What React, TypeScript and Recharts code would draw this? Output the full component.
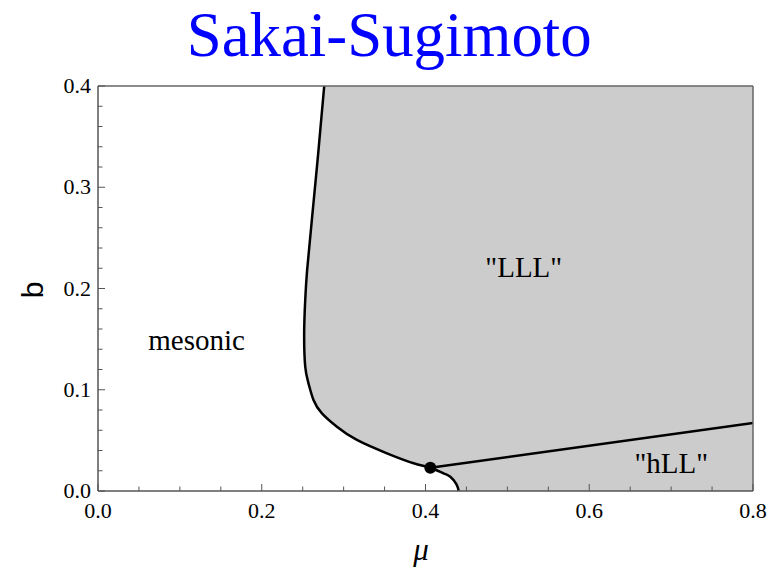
import {
  Area,
  ComposedChart,
  Line,
  ReferenceDot,
  ReferenceLine,
  Scatter,
  XAxis,
  YAxis,
} from "recharts";

// phase boundary, read from top (b = 0.4) down to the μ axis
const boundaryMu = [
  0.2763, 0.269, 0.2612, 0.2555, 0.2531, 0.2518, 0.2531, 0.2571, 0.2632,
  0.2735, 0.2918, 0.3162, 0.3529, 0.3855, 0.4059, 0.4221, 0.4303, 0.4377, 0.4405,
];
const boundaryB = [
  0.4, 0.334, 0.2677, 0.219, 0.1886, 0.1557, 0.1228, 0.1063, 0.0899,
  0.0767, 0.0635, 0.0504, 0.0372, 0.0274, 0.023, 0.0175, 0.0141, 0.0069, 0.0,
];

// LLL / hLL transition line
const hllMu = [0.4059, 0.8];
const hllB = [0.023, 0.0672];

const tripleMu = 0.4059;
const tripleB = 0.023;

const muTicks = [
  0, 0.05, 0.1, 0.15, 0.2, 0.25, 0.3, 0.35, 0.4, 0.45, 0.5, 0.55, 0.6,
  0.65, 0.7, 0.75, 0.8,
];
const bTicks = [
  0, 0.02, 0.04, 0.06, 0.08, 0.1, 0.12, 0.14, 0.16, 0.18, 0.2, 0.22, 0.24,
  0.26, 0.28, 0.3, 0.32, 0.34, 0.36, 0.38, 0.4,
];

const regionLabels = [
  { name: "mesonic", mu: 0.1204, b: 0.1494 },
  { name: '"LLL"', mu: 0.52, b: 0.2218 },
  { name: '"hLL"', mu: 0.7002, b: 0.0277 },
];

const boundary = boundaryMu.map((mu, i) => ({ mu, b: boundaryB[i] }));
const hll = hllMu.map((mu, i) => ({ mu, b: hllB[i] }));
const triple = [{ mu: tripleMu, b: tripleB }];

const SERIF = "Liberation Serif";
const AXIS = "#555";

const isMajor = (v: number, step: number) =>
  Math.abs(v / step - Math.round(v / step)) < 1e-6;

function MuTick(props: any) {
  const { x, y, payload } = props;
  const major = isMajor(payload.value, 0.2);
  return (
    <g>
      <line x1={x} x2={x} y1={y} y2={y - (major ? 7 : 4.5)} stroke={AXIS} strokeWidth={1} />
      {major && (
        <text x={x} y={y + 27} textAnchor="middle" fontFamily={SERIF} fontSize={22} fill="#000">
          {payload.value.toFixed(1)}
        </text>
      )}
    </g>
  );
}

function BTick(props: any) {
  const { x, y, payload } = props;
  const major = isMajor(payload.value, 0.1);
  return (
    <g>
      <line x1={x} x2={x + (major ? 7 : 4.5)} y1={y} y2={y} stroke={AXIS} strokeWidth={1} />
      {major && (
        <text x={x - 7} y={y + 7} textAnchor="end" fontFamily={SERIF} fontSize={22} fill="#000">
          {payload.value.toFixed(1)}
        </text>
      )}
    </g>
  );
}

export default function App() {
  return (
    <div style={{ position: "absolute", left: 0, top: 0, width: 769, height: 573, background: "#fff" }}>
      <ComposedChart
        width={769}
        height={573}
        layout="vertical"
        margin={{ top: 86, right: 16, bottom: 0, left: 0 }}
      >
        <Area
          data={boundary}
          dataKey="mu"
          type="natural"
          baseValue="dataMax"
          fill="#cccccc"
          fillOpacity={1}
          stroke="#000"
          strokeWidth={2.5}
          dot={false}
          activeDot={false}
          isAnimationActive={false}
        />
        <Line
          data={hll}
          dataKey="mu"
          type="linear"
          stroke="#000"
          strokeWidth={2.5}
          dot={false}
          activeDot={false}
          isAnimationActive={false}
        />
        <ReferenceLine y={0.4} stroke="#666" strokeWidth={1.5} />
        <ReferenceLine x={0.8} stroke="#666" strokeWidth={1.5} />
        <XAxis
          type="number"
          dataKey="mu"
          domain={[0, 0.8]}
          ticks={muTicks}
          interval={0}
          height={82}
          tickSize={0}
          tickMargin={0}
          tickLine={false}
          axisLine={{ stroke: AXIS, strokeWidth: 1.5 }}
          tick={<MuTick />}
          allowDataOverflow
        />
        <YAxis
          type="number"
          dataKey="b"
          domain={[0, 0.4]}
          reversed
          ticks={bTicks}
          interval={0}
          width={98}
          tickSize={0}
          tickMargin={0}
          tickLine={false}
          axisLine={{ stroke: AXIS, strokeWidth: 1.5 }}
          tick={<BTick />}
          allowDataOverflow
        />
        <Scatter
          data={triple}
          dataKey="b"
          fill="#000"
          shape={(p: any) => <circle cx={p.cx} cy={p.cy} r={6} fill="#000" />}
          isAnimationActive={false}
        />
        {regionLabels.map((l) => (
          <ReferenceDot
            key={l.name}
            x={l.mu}
            y={l.b}
            r={0}
            stroke="none"
            label={{ value: l.name, position: "center", fontFamily: SERIF, fontSize: 29, fill: "#000" }}
          />
        ))}
      </ComposedChart>
      <svg
        width={769}
        height={573}
        style={{ position: "absolute", left: 0, top: 0, pointerEvents: "none" }}
      >
        <text
          x={186.7}
          y={56}
          fontFamily={SERIF}
          fontSize={64}
          fill="#0000ff"
          textLength={405}
          lengthAdjust="spacingAndGlyphs"
        >
          Sakai-Sugimoto
        </text>
        <text
          x={43}
          y={290}
          textAnchor="middle"
          transform="rotate(-90 43 290)"
          fontFamily="Liberation Sans"
          fontSize={30}
          fill="#000"
        >
          b
        </text>
        <text
          x={421}
          y={560}
          textAnchor="middle"
          fontFamily={SERIF}
          fontStyle="italic"
          fontSize={31}
          fill="#000"
        >
          μ
        </text>
      </svg>
    </div>
  );
}
